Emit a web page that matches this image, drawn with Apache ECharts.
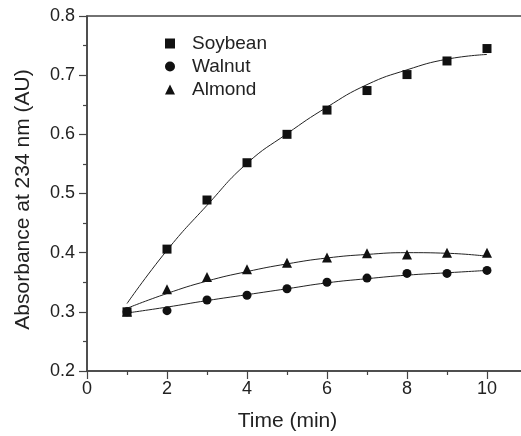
<!DOCTYPE html>
<html>
<head>
<meta charset="utf-8">
<script src="https://cdn.jsdelivr.net/npm/echarts@6/dist/echarts.min.js"></script>
<style>
  html, body { margin: 0; padding: 0; background: #fff; }
  #chart { width: 521px; height: 436px; }
</style>
</head>
<body>
<div id="chart"></div>
<script>
// Time points (min)
const times = [1, 2, 3, 4, 5, 6, 7, 8, 9, 10];

// Measured absorbance at 234 nm (AU)
const soybean = [0.300, 0.406, 0.489, 0.552, 0.600, 0.641, 0.674, 0.701, 0.724, 0.745];
const walnut  = [0.300, 0.302, 0.320, 0.328, 0.339, 0.350, 0.357, 0.365, 0.365, 0.370];
const almond  = [0.300, 0.338, 0.359, 0.372, 0.383, 0.392, 0.399, 0.397, 0.400, 0.400];

// Fitted trend curves at the same time points
const soybeanFit = [0.314, 0.404, 0.480, 0.551, 0.601, 0.646, 0.684, 0.709, 0.727, 0.735];
const walnutFit  = [0.298, 0.308, 0.319, 0.329, 0.339, 0.349, 0.356, 0.362, 0.366, 0.370];
const almondFit  = [0.306, 0.331, 0.352, 0.368, 0.381, 0.391, 0.397, 0.400, 0.399, 0.394];

// Axis ranges and tick steps
const xRange = [0, 11], xStep = 2;
const yRange = [0.2, 0.8], yStep = 0.1;

const pairs = (xs, ys) => xs.map((x, i) => [x, ys[i]]);

const FONT = 'Liberation Sans, Arial, sans-serif';
const AXIS_COLOR = '#444';
const MARK_COLOR = '#111';

const axisCommon = {
  axisLine: { show: true, onZero: false, lineStyle: { color: AXIS_COLOR, width: 1.5 } },
  axisTick: { show: true, inside: false, length: 8, lineStyle: { color: AXIS_COLOR, width: 1.2 } },
  minorTick: { show: true, splitNumber: 2, length: 4, lineStyle: { color: AXIS_COLOR, width: 1.2 } },
  splitLine: { show: false },
  axisLabel: { color: '#222', fontFamily: FONT, fontSize: 18 },
  nameTextStyle: { color: '#222', fontFamily: FONT, fontSize: 21 }
};

function fitLine(name, data) {
  return {
    name: name,
    type: 'line',
    data: pairs(times, data),
    smooth: 0.5,
    showSymbol: false,
    silent: true,
    lineStyle: { color: '#222', width: 1 },
    z: 1
  };
}

function points(name, symbol, size, data) {
  return {
    name: name,
    type: 'scatter',
    data: pairs(times, data),
    symbol: symbol,
    symbolSize: size,
    itemStyle: { color: MARK_COLOR, opacity: 1 },
    z: 3
  };
}

const chart = echarts.init(document.getElementById('chart'), null, { renderer: 'canvas' });

chart.setOption({
  animation: false,
  backgroundColor: '#fff',
  grid: {
    left: 87, top: 16, width: 440, bottom: 65,
    containLabel: false, outerBoundsMode: 'none',
    show: true, borderColor: AXIS_COLOR, borderWidth: 1.5, backgroundColor: 'transparent'
  },
  legend: {
    orient: 'vertical',
    left: 160, top: 29,
    itemWidth: 10, itemHeight: 10, itemGap: 4,
    data: ['Soybean', 'Walnut', 'Almond'],
    itemStyle: { opacity: 1 },
    textStyle: { color: '#222', fontFamily: FONT, fontSize: 19, padding: [0, 0, 0, 12] }
  },
  xAxis: Object.assign({}, axisCommon, {
    type: 'value',
    min: xRange[0], max: xRange[1], interval: xStep,
    name: 'Time (min)', nameLocation: 'middle', nameGap: 40,
    nameTextStyle: Object.assign({}, axisCommon.nameTextStyle, { padding: [0, 39, 0, 0] }),
    axisLabel: Object.assign({}, axisCommon.axisLabel, { margin: 9, showMaxLabel: false })
  }),
  yAxis: Object.assign({}, axisCommon, {
    type: 'value',
    min: yRange[0], max: yRange[1], interval: yStep,
    name: 'Absorbance at 234 nm (AU)', nameLocation: 'middle', nameGap: 53,
    nameTextStyle: Object.assign({}, axisCommon.nameTextStyle, { padding: [0, 12, 0, 0] }),
    axisLabel: Object.assign({}, axisCommon.axisLabel, {
      margin: 12,
      formatter: v => v.toFixed(1)
    })
  }),
  series: [
    fitLine('Soybean fit', soybeanFit),
    fitLine('Walnut fit', walnutFit),
    fitLine('Almond fit', almondFit),
    points('Soybean', 'rect', 9, soybean),
    points('Walnut', 'circle', 9, walnut),
    points('Almond', 'triangle', 10, almond)
  ]
});
</script>
</body>
</html>
